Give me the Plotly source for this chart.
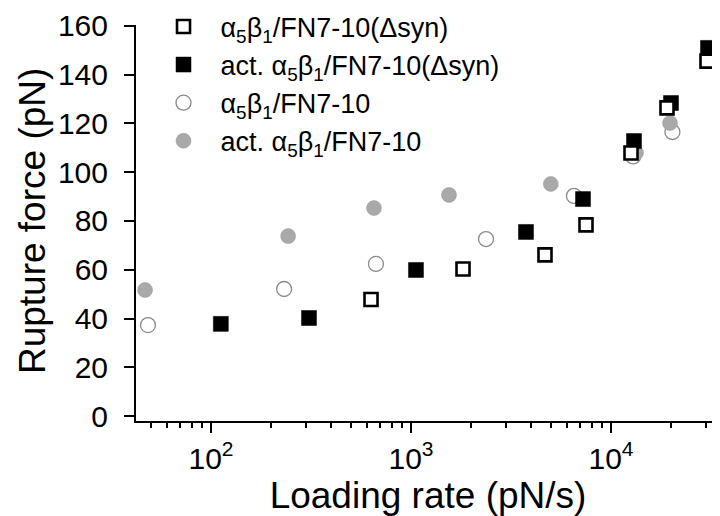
import plotly.graph_objects as go

# ---- data ----
open_sq_x = [631, 1820, 4677, 7499, 12590, 19055, 30200]
open_sq_y = [47.8, 60.3, 66.1, 78.4, 107.9, 126.4, 145.6]

filled_sq_x = [112, 309, 1059, 3758, 7244, 13032, 19953, 30549]
filled_sq_y = [37.8, 40.2, 59.9, 75.5, 89.0, 112.8, 128.4, 151.0]

open_circ_x = [48.4, 232, 668, 2372, 6530, 12900, 20280]
open_circ_y = [37.3, 52.1, 62.4, 72.6, 90.3, 106.5, 116.5]

gray_circ_x = [46.8, 243, 653, 1549, 5000, 13335, 19724, 35075]
gray_circ_y = [51.7, 73.8, 85.3, 90.7, 95.2, 108.0, 120.2, 149.0]

names = [
    "α<sub>5</sub>β<sub>1</sub>/FN7-10(Δsyn)",
    "act. α<sub>5</sub>β<sub>1</sub>/FN7-10(Δsyn)",
    "α<sub>5</sub>β<sub>1</sub>/FN7-10",
    "act. α<sub>5</sub>β<sub>1</sub>/FN7-10",
]

x_tickvals = [100, 1000, 10000]
x_ticktext = ["10<sup>2</sup>", "10<sup>3</sup>", "10<sup>4</sup>"]
x_minorvals = [50, 60, 70, 80, 90,
               200, 300, 400, 500, 600, 700, 800, 900,
               2000, 3000, 4000, 5000, 6000, 7000, 8000, 9000,
               20000, 30000]
y_tickvals = [0, 20, 40, 60, 80, 100, 120, 140, 160]

x_title = "Loading rate (pN/s)"
y_title = "Rupture force (pN)"

FONT = "Liberation Sans, Arial, Helvetica, sans-serif"

fig = go.Figure()

fig.add_trace(go.Scatter(
    x=open_circ_x, y=open_circ_y, mode="markers", name=names[2], legendrank=3,
    marker=dict(symbol="circle", size=15, color="white",
                line=dict(color="#8a8a8a", width=1.3)),
))
fig.add_trace(go.Scatter(
    x=gray_circ_x, y=gray_circ_y, mode="markers", name=names[3], legendrank=4,
    marker=dict(symbol="circle", size=15, color="#a9a9a9",
                line=dict(color="#9a9a9a", width=0.5)),
))
fig.add_trace(go.Scatter(
    x=filled_sq_x, y=filled_sq_y, mode="markers", name=names[1], legendrank=2,
    marker=dict(symbol="square", size=15, color="black",
                line=dict(color="black", width=0.5)),
))
fig.add_trace(go.Scatter(
    x=open_sq_x, y=open_sq_y, mode="markers", name=names[0], legendrank=1,
    marker=dict(symbol="square", size=13, color="white",
                line=dict(color="black", width=2.6)),
))

fig.update_layout(
    width=720, height=516,
    margin=dict(l=128, r=8, t=17, b=103, autoexpand=False),
    paper_bgcolor="white", plot_bgcolor="white",
    font=dict(family=FONT, color="black"),
    showlegend=True,
    legend=dict(
        x=0.018, y=1.057, xanchor="left", yanchor="top",
        xref="paper", yref="paper",
        font=dict(family=FONT, size=27, color="black"),
        bgcolor="rgba(0,0,0,0)", itemwidth=64,
        traceorder="normal", tracegroupgap=0,
    ),
    annotations=[dict(
        text=y_title, textangle=-90, showarrow=False,
        xref="paper", yref="paper", x=-0.178, y=0.505,
        xanchor="center", yanchor="middle",
        font=dict(family=FONT, size=37, color="black"),
    )],
)

fig.update_xaxes(
    type="log", range=[1.625, 4.545], automargin=False,
    showgrid=False, zeroline=False,
    showline=True, linecolor="black", linewidth=2,
    ticks="outside", ticklen=10, tickwidth=2, tickcolor="black",
    tickmode="array", tickvals=x_tickvals, ticktext=x_ticktext,
    tickfont=dict(family=FONT, size=30, color="black"),
    minor=dict(ticks="outside", ticklen=5, tickwidth=2, tickcolor="black",
               tickmode="array", tickvals=x_minorvals, showgrid=False),
    title=dict(text=x_title, font=dict(family=FONT, size=37, color="black"),
               standoff=6),
)
fig.update_yaxes(
    range=[-2.05, 160.4], automargin=False,
    showgrid=False, zeroline=False,
    showline=True, linecolor="black", linewidth=2,
    ticks="outside", ticklen=10, tickwidth=2, tickcolor="black",
    tickmode="array", tickvals=y_tickvals,
    tickfont=dict(family=FONT, size=30, color="black"),
    ticklabelstandoff=10,
)

for tr in fig.data:
    tr.cliponaxis = False

fig.write_html("out.html")
